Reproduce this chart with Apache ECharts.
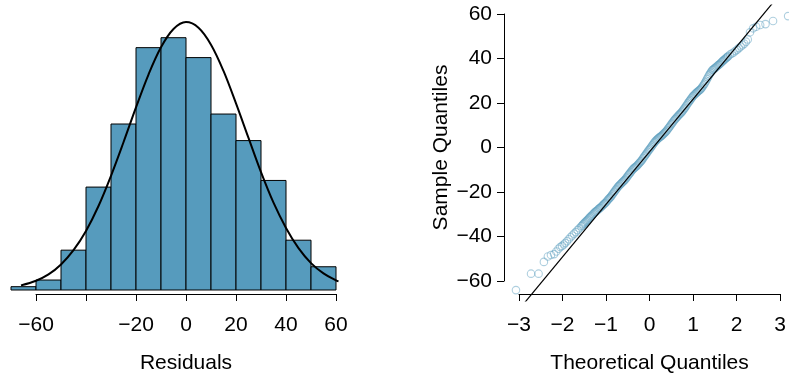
<!DOCTYPE html>
<html><head><meta charset="utf-8">
<script src="https://cdn.jsdelivr.net/npm/echarts@6/dist/echarts.min.js"></script>
<style>html,body{margin:0;padding:0;background:#fff}#c{width:789px;height:379px}</style>
</head><body><div id="c"></div>
<script>
// ---- Histogram of residuals ----
const binStarts = [-70, -60, -50, -40, -30, -20, -10, 0, 10, 20, 30, 40, 50];
const binWidth = 10;
const binCounts = [1, 3, 12, 31, 50, 73, 76, 70, 53, 45, 33, 15, 7];
// normal curve overlay (scaled to counts)
const curveX = [-66, -60, -55, -50, -45, -40, -35, -30, -25, -20, -15, -10, -5, 0, 5, 10, 15, 20, 25, 30, 35, 40, 45, 50, 55, 60, 61];
const curveY = [1.4, 2.8, 4.7, 7.7, 12.0, 17.8, 25.3, 34.4, 44.5, 55.0, 64.9, 73.1, 78.6, 80.7, 79.0, 73.9, 66.0, 56.2, 45.8, 35.5, 26.3, 18.7, 12.6, 8.1, 5.0, 2.9, 2.6];
const histTicks = [-60, -40, -20, 0, 20, 40, 60];
const histTitle = 'Residuals';

// ---- Normal QQ plot ----
const qqTheoretical = [
  -3.07, -2.73, -2.56, -2.44, -2.35, -2.28, -2.21, -2.16, -2.11, -2.07, -2.03, -1.99,
  -1.96, -1.92, -1.88, -1.84, -1.80, -1.76, -1.72, -1.68, -1.64,
  -1.60, -1.58, -1.56, -1.54, -1.52, -1.50, -1.48, -1.46, -1.44, -1.42, -1.40, -1.38,
  -1.36, -1.34, -1.32, -1.30, -1.28, -1.26, -1.24, -1.22, -1.20, -1.18, -1.16, -1.14,
  -1.12, -1.10, -1.08, -1.06, -1.04, -1.02, -1.00, -0.98, -0.96, -0.94, -0.92, -0.90,
  -0.88, -0.86, -0.84, -0.82, -0.80, -0.78, -0.76, -0.74, -0.72, -0.70, -0.68, -0.66,
  -0.64, -0.62, -0.60, -0.58, -0.56, -0.54, -0.52, -0.50, -0.48, -0.46, -0.44, -0.42,
  -0.40, -0.38, -0.36, -0.34, -0.32, -0.30, -0.28, -0.26, -0.24, -0.22, -0.20, -0.18,
  -0.16, -0.14, -0.12, -0.10, -0.08, -0.06, -0.04, -0.02, 0.00, 0.02, 0.04, 0.06,
  0.08, 0.10, 0.12, 0.14, 0.16, 0.18, 0.20, 0.22, 0.24, 0.26, 0.28, 0.30,
  0.32, 0.34, 0.36, 0.38, 0.40, 0.42, 0.44, 0.46, 0.48, 0.50, 0.52, 0.54,
  0.56, 0.58, 0.60, 0.62, 0.64, 0.66, 0.68, 0.70, 0.72, 0.74, 0.76, 0.78,
  0.80, 0.82, 0.84, 0.86, 0.88, 0.90, 0.92, 0.94, 0.96, 0.98, 1.00, 1.02,
  1.04, 1.06, 1.08, 1.10, 1.12, 1.14, 1.16, 1.18, 1.20, 1.22, 1.24, 1.26,
  1.28, 1.30, 1.32, 1.34, 1.36, 1.38, 1.40, 1.42, 1.44, 1.46, 1.48, 1.50,
  1.52, 1.54, 1.56, 1.58, 1.60, 1.62, 1.64, 1.66, 1.68, 1.70, 1.72,
  1.76, 1.80, 1.84, 1.88, 1.92, 1.96, 2.00, 2.04, 2.08, 2.12,
  2.16, 2.21, 2.28, 2.35, 2.44, 2.56, 2.73, 3.07
];
const qqSample = [
  -64.3, -56.9, -56.9, -51.6, -49.2, -48.5, -48.1, -46.9, -45.7, -44.9, -44.4, -43.8,
  -43.1, -42.3, -41.4, -40.5, -39.7, -38.9, -38.2, -37.3, -36.5,
  -35.7, -35.3, -34.8, -34.4, -34.0, -33.6, -33.2, -32.8, -32.4, -31.9, -31.5, -31.1,
  -30.7, -30.3, -29.9, -29.5, -29.1, -28.8, -28.5, -28.1, -27.7, -27.4, -27.1, -26.7,
  -26.3, -25.9, -25.5, -25.2, -24.8, -24.3, -23.8, -23.3, -22.9, -22.5, -22.0, -21.4,
  -20.9, -20.3, -19.8, -19.2, -18.7, -18.1, -17.6, -17.2, -16.8, -16.4, -16.0, -15.6,
  -15.2, -14.8, -14.4, -13.8, -13.3, -12.7, -12.2, -11.7, -11.2, -10.6, -10.1, -9.7,
  -9.3, -9.0, -8.7, -8.3, -7.9, -7.4, -7.0, -6.5, -6.1, -5.5, -4.9, -4.3,
  -3.8, -3.2, -2.7, -2.1, -1.5, -1.0, -0.5, 0.1, 0.7, 1.2, 1.8, 2.3,
  2.8, 3.2, 3.6, 4.0, 4.3, 4.6, 4.9, 5.2, 5.6, 6.0, 6.4, 6.8,
  7.2, 7.7, 8.3, 8.8, 9.3, 9.9, 10.5, 11.0, 11.6, 12.1, 12.6, 13.0,
  13.5, 13.9, 14.4, 14.8, 15.2, 15.6, 16.1, 16.6, 17.2, 17.7, 18.3, 18.9,
  19.6, 20.1, 20.7, 21.2, 21.8, 22.3, 22.9, 23.3, 23.7, 24.1, 24.5, 24.8,
  25.2, 25.5, 25.8, 26.2, 26.7, 27.3, 27.9, 28.5, 29.2, 29.9, 30.7, 31.4,
  32.2, 32.8, 33.5, 34.1, 34.7, 35.0, 35.3, 35.6, 36.0, 36.3, 36.7, 37.0,
  37.3, 37.7, 38.1, 38.5, 38.9, 39.2, 39.6, 39.9, 40.3, 40.6, 41.0,
  41.7, 42.2, 42.6, 43.3, 43.9, 44.6, 45.3, 45.9, 46.6, 47.5,
  48.5, 51.7, 53.5, 54.2, 55.0, 55.4, 56.8, 59.0
];
// reference line endpoints (clipped to plot region)
const qqLineX = [-3.2, 3.0];
const qqLineY = [-77.8, 71.6];
const qqXTicks = [-3, -2, -1, 0, 1, 2, 3];
const qqYTicks = [-60, -40, -20, 0, 20, 40, 60];
const qqXTitle = 'Theoretical Quantiles';
const qqYTitle = 'Sample Quantiles';

const FONT = "'Liberation Sans', Arial, sans-serif";
const FS = 21;
const BLUE = '#569BBD';
const minus = v => String(v).replace('-', '\u2212');

const chart = echarts.init(document.getElementById('c'), null, {renderer: 'canvas'});

const hiddenAxis = (extra) => Object.assign({
  show: false, type: 'value', scale: false,
  axisLine: {show: false}, axisTick: {show: false}, axisLabel: {show: false}, splitLine: {show: false}
}, extra);

const visibleAxisCommon = {
  type: 'value',
  axisLine: {show: true, lineStyle: {color: '#000', width: 1}},
  axisTick: {show: true, inside: false, length: 7, lineStyle: {color: '#000', width: 1}},
  splitLine: {show: false},
  nameTextStyle: {fontFamily: FONT, fontSize: FS, color: '#000'}
};

const option = {
  animation: false,
  backgroundColor: '#fff',
  textStyle: {fontFamily: FONT},
  grid: [
    {left: 11, right: 448, top: 10, bottom: 89},          // 0: histogram data
    {left: 36, right: 453, top: 10, bottom: 77},          // 1: histogram x-axis display
    {left: 504, right: 0, top: 5, bottom: 78},            // 2: QQ data
    {left: 519, right: 4, top: 5, bottom: 77},            // 3: QQ x-axis display
    {left: 504, right: 0, top: 14, bottom: 98}            // 4: QQ y-axis display
  ],
  xAxis: [
    hiddenAxis({gridIndex: 0, min: -70, max: 62}),
    Object.assign({}, visibleAxisCommon, {
      gridIndex: 1, min: histTicks[0], max: histTicks[histTicks.length - 1], interval: 20,
      name: histTitle, nameLocation: 'middle', nameGap: 59,
      axisLabel: {show: true, margin: 21, fontFamily: FONT, fontSize: FS, color: '#000',
        showMinLabel: true, showMaxLabel: true,
        formatter: v => (v === -40 ? '' : minus(v))}
    }),
    hiddenAxis({gridIndex: 2, min: -3.34, max: 3.09}),
    Object.assign({}, visibleAxisCommon, {
      gridIndex: 3, min: qqXTicks[0], max: qqXTicks[qqXTicks.length - 1], interval: 1,
      name: qqXTitle, nameLocation: 'middle', nameGap: 59,
      axisLabel: {show: true, margin: 21, fontFamily: FONT, fontSize: FS, color: '#000',
        showMinLabel: true, showMaxLabel: true, formatter: v => minus(v)}
    }),
    hiddenAxis({gridIndex: 4, min: 0, max: 1})
  ],
  yAxis: [
    hiddenAxis({gridIndex: 0, min: 0, max: 84.34}),
    hiddenAxis({gridIndex: 1, min: 0, max: 1}),
    hiddenAxis({gridIndex: 2, min: -69.2, max: 64.0}),
    hiddenAxis({gridIndex: 3, min: 0, max: 1}),
    Object.assign({}, visibleAxisCommon, {
      gridIndex: 4, min: qqYTicks[0], max: qqYTicks[qqYTicks.length - 1], interval: 20,
      name: qqYTitle, nameLocation: 'middle', nameGap: 52, nameRotate: 90,
      axisLabel: {show: true, margin: 12, fontFamily: FONT, fontSize: FS, color: '#000',
        showMinLabel: true, showMaxLabel: true, formatter: v => minus(v)}
    })
  ],
  series: [
    {
      type: 'custom', xAxisIndex: 0, yAxisIndex: 0,
      encode: {x: [0, 1], y: 2},
      data: binStarts.map((s, i) => [s, s + binWidth, binCounts[i]]),
      renderItem: function (params, api) {
        const p0 = api.coord([api.value(0), api.value(2)]);
        const p1 = api.coord([api.value(1), 0]);
        return {
          type: 'rect',
          shape: {x: p0[0], y: p0[1], width: p1[0] - p0[0], height: p1[1] - p0[1]},
          style: {fill: BLUE, stroke: '#000', lineWidth: 1}
        };
      },
      silent: true
    },
    {
      type: 'line', xAxisIndex: 0, yAxisIndex: 0,
      data: curveX.map((x, i) => [x, curveY[i]]),
      smooth: 0.35, showSymbol: false, symbol: 'none',
      lineStyle: {color: '#000', width: 2}, silent: true
    },
    {
      type: 'scatter', xAxisIndex: 2, yAxisIndex: 2,
      data: qqTheoretical.map((t, i) => [t, qqSample[i]]),
      symbol: 'circle', symbolSize: 7.5,
      itemStyle: {color: 'rgba(0,0,0,0)', borderColor: 'rgba(86,155,189,0.6)', borderWidth: 1.1},
      silent: true
    },
    {
      type: 'line', xAxisIndex: 2, yAxisIndex: 2, clip: true,
      data: qqLineX.map((x, i) => [x, qqLineY[i]]),
      showSymbol: false, symbol: 'none',
      lineStyle: {color: '#000', width: 1.2}, silent: true
    }
  ]
};
chart.setOption(option);
</script>
</body></html>
